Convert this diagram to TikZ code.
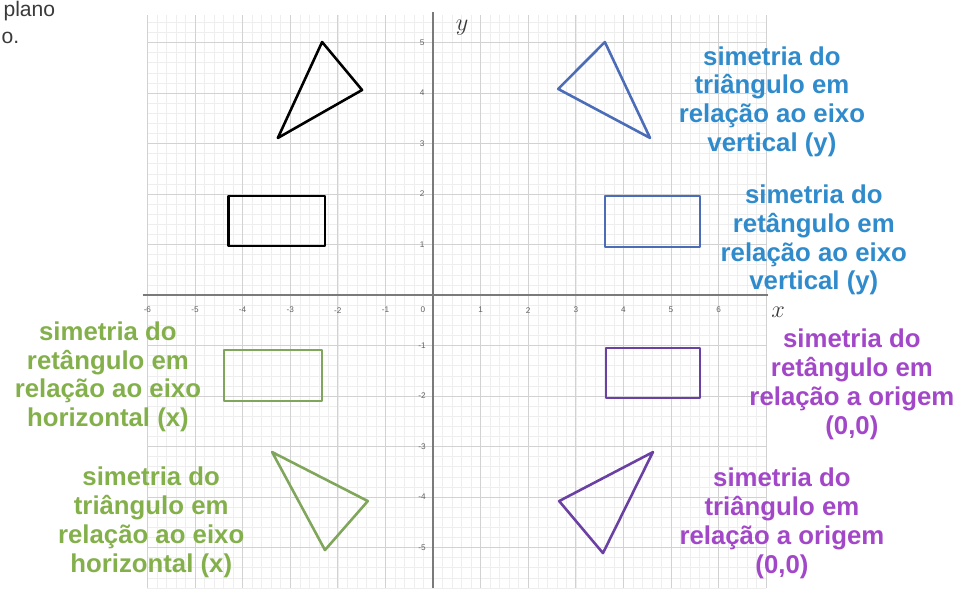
\documentclass[tikz,border=0pt]{standalone}
\usepackage{fontspec}
\setmainfont{Liberation Sans}
\usetikzlibrary{positioning}
\definecolor{cblue}{HTML}{2F8BCB}
\definecolor{cblueshape}{HTML}{4B6CB7}
\definecolor{cgreen}{HTML}{84B04C}
\definecolor{cgreenshape}{HTML}{7FA65A}
\definecolor{cpurple}{HTML}{A347C9}
\definecolor{cpurpleshape}{HTML}{6A40A4}
\definecolor{cgrid}{HTML}{D2D2D2}
\definecolor{cminor}{HTML}{EEEEEE}
\definecolor{caxis}{HTML}{7A7A7A}
\definecolor{cdark}{HTML}{3A3A3A}
\tikzset{
  every picture/.style={line width=0.6pt},
  figure/.style={draw=#1, line width=2.2pt, line join=round},
  figure/.default=black,
  note/.style={text=#1, font=\bfseries\fontsize{22}{24.6}\selectfont, align=center, inner sep=0pt},
  tick/.style={font=\fontsize{7}{8}\selectfont, text=caxis!80!black, inner sep=1pt},
  axisname/.style={font=\fontsize{20}{20}\selectfont, text=cdark, inner sep=0pt},
  pagetext/.style={font=\fontsize{18}{20}\selectfont, text=cdark, inner sep=0pt},
}
\begin{document}
\begin{tikzpicture}[x=1.428cm, y=1.515cm]
  \useasboundingbox (-9.097,-5.802) rectangle (11.176,5.842);
  % squared paper
  \draw[cminor, line width=0.4pt, step=0.2] (-6,-5.802) grid (7,5.55);
  \draw[cgrid, step=1] (-6,-5.802) grid (7,5.55);
  \draw[caxis, line width=1.4pt] (-6.1,0) -- (7.04,0);
  \draw[caxis, line width=1.4pt] (0,-5.802) -- (0,5.6);
  \foreach \v [count=\k] in {-6,-5,-4,-3,-2,-1,1,2,3,4,5,6}
    \node[tick] (xtick\k) at (\v,-0.3) {\v};
  \node[tick] (xzero) at (-0.21,-0.3) {0};
  \foreach \v [count=\k] in {-5,-4,-3,-2,-1,1,2,3,4,5}
    \node[tick] (ytick\k) at (-0.23,\v) {\v};
  \node[axisname] (ylab) at (0.61,5.29) {$y$};
  \node[axisname] (xlab) at (7.25,-0.34) {$x$};
  % page text next to the figure
  \node[pagetext, anchor=north west] (plano) at (-9.03,5.82) {plano};
  \node[pagetext, anchor=base west] (cart) at (-9.07,4.99) {o.};
  % original figures
  \draw[figure] (-2.33,5.01) -- (-1.49,4.06) -- (-3.26,3.11) -- cycle;
  \draw[figure] (-4.3,0.97) rectangle (-2.27,1.96);
  % symmetric to the y axis
  \draw[figure=cblueshape] (3.61,5.01) -- (2.63,4.08) -- (4.56,3.11) -- cycle;
  \draw[figure=cblueshape] (3.61,0.95) rectangle (5.61,1.96);
  % symmetric to the x axis
  \draw[figure=cgreenshape] (-4.39,-2.10) rectangle (-2.33,-1.09);
  \draw[figure=cgreenshape] (-3.38,-3.11) -- (-1.37,-4.08) -- (-2.27,-5.05) -- cycle;
  % symmetric to the origin
  \draw[figure=cpurpleshape] (3.63,-2.04) rectangle (5.61,-1.05);
  \draw[figure=cpurpleshape] (4.62,-3.11) -- (2.65,-4.08) -- (3.57,-5.11) -- cycle;
  % captions
  \node[note=cblue] (trivert) at (7.12,3.83) {simetria do\\triângulo em\\relação ao eixo\\vertical (y)};
  \node[note=cblue] (retvert) at (8.00,1.09) {simetria do\\retângulo em\\relação ao eixo\\vertical (y)};
  \node[note=cpurple] (retorig) at (8.80,-1.77) {simetria do\\retângulo em\\relação a origem\\(0,0)};
  \node[note=cpurple] (triorig) at (7.33,-4.52) {simetria do\\triângulo em\\relação a origem\\(0,0)};
  \node[note=cgreen] (rethor) at (-6.83,-1.62) {simetria do\\retângulo em\\relação ao eixo\\horizontal (x)};
  \node[note=cgreen] (trihor) at (-5.92,-4.50) {simetria do\\triângulo em\\relação ao eixo\\horizontal (x)};
\end{tikzpicture}
\end{document}
